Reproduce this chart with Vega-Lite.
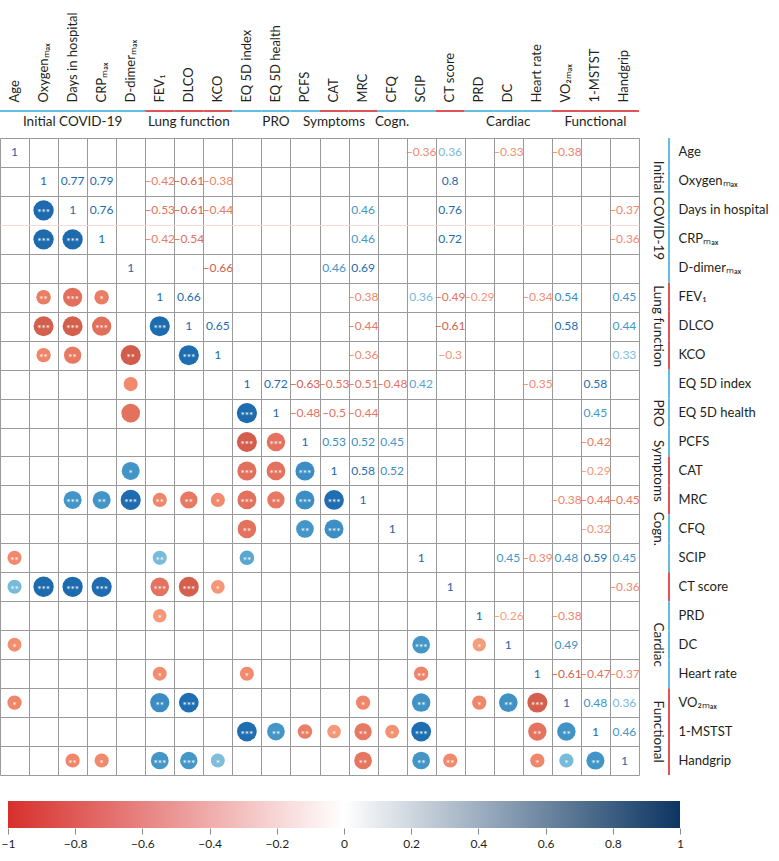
{
  "$schema": "https://vega.github.io/schema/vega-lite/v6.json",
  "padding": {"left": 0, "top": 11, "right": 0, "bottom": 0},
  "config": {
    "font": "Lato",
    "view": {"stroke": null},
    "axis": {"labelColor": "#231f20", "labelFontSize": 13, "title": null}
  },
  "datasets": {
    "vars": [
      {"v": "Age", "kind": "a"}, {"v": "Oxygenmax", "kind": "a"}, {"v": "Days in hospital", "kind": "a"}, {"v": "CRPmax", "kind": "a"}, {"v": "D-dimermax", "kind": "a"},
      {"v": "FEV1", "kind": "b"}, {"v": "DLCO", "kind": "b"}, {"v": "KCO", "kind": "b"},
      {"v": "EQ 5D index", "kind": "a"}, {"v": "EQ 5D health", "kind": "a"}, {"v": "PCFS", "kind": "a"},
      {"v": "CAT", "kind": "b"}, {"v": "MRC", "kind": "b"},
      {"v": "CFQ", "kind": "a"}, {"v": "SCIP", "kind": "a"},
      {"v": "CT score", "kind": "b"},
      {"v": "PRD", "kind": "a"}, {"v": "DC", "kind": "a"}, {"v": "Heart rate", "kind": "a"},
      {"v": "VO2max", "kind": "b"}, {"v": "1-MSTST", "kind": "b"}, {"v": "Handgrip", "kind": "b"}
    ],
    "diag": [
      {"row": "Age", "col": "Age", "r": 1}, {"row": "Oxygenmax", "col": "Oxygenmax", "r": 1}, {"row": "Days in hospital", "col": "Days in hospital", "r": 1}, {"row": "CRPmax", "col": "CRPmax", "r": 1}, {"row": "D-dimermax", "col": "D-dimermax", "r": 1}, {"row": "FEV1", "col": "FEV1", "r": 1}, {"row": "DLCO", "col": "DLCO", "r": 1}, {"row": "KCO", "col": "KCO", "r": 1}, {"row": "EQ 5D index", "col": "EQ 5D index", "r": 1}, {"row": "EQ 5D health", "col": "EQ 5D health", "r": 1}, {"row": "PCFS", "col": "PCFS", "r": 1}, {"row": "CAT", "col": "CAT", "r": 1}, {"row": "MRC", "col": "MRC", "r": 1}, {"row": "CFQ", "col": "CFQ", "r": 1}, {"row": "SCIP", "col": "SCIP", "r": 1}, {"row": "CT score", "col": "CT score", "r": 1}, {"row": "PRD", "col": "PRD", "r": 1}, {"row": "DC", "col": "DC", "r": 1}, {"row": "Heart rate", "col": "Heart rate", "r": 1}, {"row": "VO2max", "col": "VO2max", "r": 1}, {"row": "1-MSTST", "col": "1-MSTST", "r": 1}, {"row": "Handgrip", "col": "Handgrip", "r": 1}
    ],
    "upper": [
      {"row": "Age", "col": "SCIP", "r": -0.36}, {"row": "Age", "col": "CT score", "r": 0.36}, {"row": "Age", "col": "DC", "r": -0.33}, {"row": "Age", "col": "VO2max", "r": -0.38},
      {"row": "Oxygenmax", "col": "Days in hospital", "r": 0.77}, {"row": "Oxygenmax", "col": "CRPmax", "r": 0.79}, {"row": "Oxygenmax", "col": "FEV1", "r": -0.42}, {"row": "Oxygenmax", "col": "DLCO", "r": -0.61}, {"row": "Oxygenmax", "col": "KCO", "r": -0.38}, {"row": "Oxygenmax", "col": "CT score", "r": 0.8},
      {"row": "Days in hospital", "col": "CRPmax", "r": 0.76}, {"row": "Days in hospital", "col": "FEV1", "r": -0.53}, {"row": "Days in hospital", "col": "DLCO", "r": -0.61}, {"row": "Days in hospital", "col": "KCO", "r": -0.44}, {"row": "Days in hospital", "col": "MRC", "r": 0.46}, {"row": "Days in hospital", "col": "CT score", "r": 0.76}, {"row": "Days in hospital", "col": "Handgrip", "r": -0.37},
      {"row": "CRPmax", "col": "FEV1", "r": -0.42}, {"row": "CRPmax", "col": "DLCO", "r": -0.54}, {"row": "CRPmax", "col": "MRC", "r": 0.46}, {"row": "CRPmax", "col": "CT score", "r": 0.72}, {"row": "CRPmax", "col": "Handgrip", "r": -0.36},
      {"row": "D-dimermax", "col": "KCO", "r": -0.66}, {"row": "D-dimermax", "col": "CAT", "r": 0.46}, {"row": "D-dimermax", "col": "MRC", "r": 0.69},
      {"row": "FEV1", "col": "DLCO", "r": 0.66}, {"row": "FEV1", "col": "MRC", "r": -0.38}, {"row": "FEV1", "col": "SCIP", "r": 0.36}, {"row": "FEV1", "col": "CT score", "r": -0.49}, {"row": "FEV1", "col": "PRD", "r": -0.29}, {"row": "FEV1", "col": "Heart rate", "r": -0.34}, {"row": "FEV1", "col": "VO2max", "r": 0.54}, {"row": "FEV1", "col": "Handgrip", "r": 0.45},
      {"row": "DLCO", "col": "KCO", "r": 0.65}, {"row": "DLCO", "col": "MRC", "r": -0.44}, {"row": "DLCO", "col": "CT score", "r": -0.61}, {"row": "DLCO", "col": "VO2max", "r": 0.58}, {"row": "DLCO", "col": "Handgrip", "r": 0.44},
      {"row": "KCO", "col": "MRC", "r": -0.36}, {"row": "KCO", "col": "CT score", "r": -0.3}, {"row": "KCO", "col": "Handgrip", "r": 0.33},
      {"row": "EQ 5D index", "col": "EQ 5D health", "r": 0.72}, {"row": "EQ 5D index", "col": "PCFS", "r": -0.63}, {"row": "EQ 5D index", "col": "CAT", "r": -0.53}, {"row": "EQ 5D index", "col": "MRC", "r": -0.51}, {"row": "EQ 5D index", "col": "CFQ", "r": -0.48}, {"row": "EQ 5D index", "col": "SCIP", "r": 0.42}, {"row": "EQ 5D index", "col": "Heart rate", "r": -0.35}, {"row": "EQ 5D index", "col": "1-MSTST", "r": 0.58},
      {"row": "EQ 5D health", "col": "PCFS", "r": -0.48}, {"row": "EQ 5D health", "col": "CAT", "r": -0.5}, {"row": "EQ 5D health", "col": "MRC", "r": -0.44}, {"row": "EQ 5D health", "col": "1-MSTST", "r": 0.45},
      {"row": "PCFS", "col": "CAT", "r": 0.53}, {"row": "PCFS", "col": "MRC", "r": 0.52}, {"row": "PCFS", "col": "CFQ", "r": 0.45}, {"row": "PCFS", "col": "1-MSTST", "r": -0.42},
      {"row": "CAT", "col": "MRC", "r": 0.58}, {"row": "CAT", "col": "CFQ", "r": 0.52}, {"row": "CAT", "col": "1-MSTST", "r": -0.29},
      {"row": "MRC", "col": "VO2max", "r": -0.38}, {"row": "MRC", "col": "1-MSTST", "r": -0.44}, {"row": "MRC", "col": "Handgrip", "r": -0.45},
      {"row": "CFQ", "col": "1-MSTST", "r": -0.32},
      {"row": "SCIP", "col": "DC", "r": 0.45}, {"row": "SCIP", "col": "Heart rate", "r": -0.39}, {"row": "SCIP", "col": "VO2max", "r": 0.48}, {"row": "SCIP", "col": "1-MSTST", "r": 0.59}, {"row": "SCIP", "col": "Handgrip", "r": 0.45},
      {"row": "CT score", "col": "Handgrip", "r": -0.36},
      {"row": "PRD", "col": "DC", "r": -0.26}, {"row": "PRD", "col": "VO2max", "r": -0.38},
      {"row": "DC", "col": "VO2max", "r": 0.49},
      {"row": "Heart rate", "col": "VO2max", "r": -0.61}, {"row": "Heart rate", "col": "1-MSTST", "r": -0.47}, {"row": "Heart rate", "col": "Handgrip", "r": -0.37},
      {"row": "VO2max", "col": "1-MSTST", "r": 0.48}, {"row": "VO2max", "col": "Handgrip", "r": 0.36},
      {"row": "1-MSTST", "col": "Handgrip", "r": 0.46}
    ],
    "lower": [
      {"row": "Days in hospital", "col": "Oxygenmax", "r": 0.77, "sig": "***"},
      {"row": "CRPmax", "col": "Oxygenmax", "r": 0.79, "sig": "***"},
      {"row": "CRPmax", "col": "Days in hospital", "r": 0.76, "sig": "***"},
      {"row": "FEV1", "col": "Oxygenmax", "r": -0.42, "sig": "**"},
      {"row": "FEV1", "col": "Days in hospital", "r": -0.53, "sig": "***"},
      {"row": "FEV1", "col": "CRPmax", "r": -0.42, "sig": "*"},
      {"row": "DLCO", "col": "Oxygenmax", "r": -0.61, "sig": "***"},
      {"row": "DLCO", "col": "Days in hospital", "r": -0.61, "sig": "***"},
      {"row": "DLCO", "col": "CRPmax", "r": -0.54, "sig": "***"},
      {"row": "DLCO", "col": "FEV1", "r": 0.66, "sig": "***"},
      {"row": "KCO", "col": "Oxygenmax", "r": -0.38, "sig": "**"},
      {"row": "KCO", "col": "Days in hospital", "r": -0.44, "sig": "**"},
      {"row": "KCO", "col": "D-dimermax", "r": -0.66, "sig": "**"},
      {"row": "KCO", "col": "DLCO", "r": 0.65, "sig": "***"},
      {"row": "EQ 5D index", "col": "D-dimermax", "r": -0.36, "sig": ""},
      {"row": "EQ 5D health", "col": "D-dimermax", "r": -0.5, "sig": ""},
      {"row": "EQ 5D health", "col": "EQ 5D index", "r": 0.72, "sig": "***"},
      {"row": "PCFS", "col": "EQ 5D index", "r": -0.63, "sig": "***"},
      {"row": "PCFS", "col": "EQ 5D health", "r": -0.48, "sig": "***"},
      {"row": "CAT", "col": "D-dimermax", "r": 0.46, "sig": "*"},
      {"row": "CAT", "col": "EQ 5D index", "r": -0.53, "sig": "***"},
      {"row": "CAT", "col": "EQ 5D health", "r": -0.5, "sig": "***"},
      {"row": "CAT", "col": "PCFS", "r": 0.53, "sig": "***"},
      {"row": "MRC", "col": "Days in hospital", "r": 0.46, "sig": "***"},
      {"row": "MRC", "col": "CRPmax", "r": 0.46, "sig": "**"},
      {"row": "MRC", "col": "D-dimermax", "r": 0.69, "sig": "***"},
      {"row": "MRC", "col": "FEV1", "r": -0.38, "sig": "**"},
      {"row": "MRC", "col": "DLCO", "r": -0.44, "sig": "**"},
      {"row": "MRC", "col": "KCO", "r": -0.36, "sig": "*"},
      {"row": "MRC", "col": "EQ 5D index", "r": -0.51, "sig": "***"},
      {"row": "MRC", "col": "EQ 5D health", "r": -0.44, "sig": "**"},
      {"row": "MRC", "col": "PCFS", "r": 0.52, "sig": "***"},
      {"row": "MRC", "col": "CAT", "r": 0.58, "sig": "***"},
      {"row": "CFQ", "col": "EQ 5D index", "r": -0.48, "sig": "**"},
      {"row": "CFQ", "col": "PCFS", "r": 0.45, "sig": "**"},
      {"row": "CFQ", "col": "CAT", "r": 0.52, "sig": "***"},
      {"row": "SCIP", "col": "Age", "r": -0.36, "sig": "**"},
      {"row": "SCIP", "col": "FEV1", "r": 0.36, "sig": "**"},
      {"row": "SCIP", "col": "EQ 5D index", "r": 0.42, "sig": "**"},
      {"row": "CT score", "col": "Age", "r": 0.36, "sig": "**"},
      {"row": "CT score", "col": "Oxygenmax", "r": 0.8, "sig": "***"},
      {"row": "CT score", "col": "Days in hospital", "r": 0.76, "sig": "***"},
      {"row": "CT score", "col": "CRPmax", "r": 0.72, "sig": "***"},
      {"row": "CT score", "col": "FEV1", "r": -0.49, "sig": "***"},
      {"row": "CT score", "col": "DLCO", "r": -0.61, "sig": "***"},
      {"row": "CT score", "col": "KCO", "r": -0.3, "sig": "*"},
      {"row": "PRD", "col": "FEV1", "r": -0.29, "sig": "*"},
      {"row": "DC", "col": "Age", "r": -0.33, "sig": "*"},
      {"row": "DC", "col": "SCIP", "r": 0.45, "sig": "***"},
      {"row": "DC", "col": "PRD", "r": -0.26, "sig": "*"},
      {"row": "Heart rate", "col": "FEV1", "r": -0.34, "sig": "*"},
      {"row": "Heart rate", "col": "EQ 5D index", "r": -0.35, "sig": "*"},
      {"row": "Heart rate", "col": "SCIP", "r": -0.39, "sig": "**"},
      {"row": "VO2max", "col": "Age", "r": -0.38, "sig": "*"},
      {"row": "VO2max", "col": "FEV1", "r": 0.54, "sig": "**"},
      {"row": "VO2max", "col": "DLCO", "r": 0.58, "sig": "***"},
      {"row": "VO2max", "col": "MRC", "r": -0.38, "sig": "*"},
      {"row": "VO2max", "col": "SCIP", "r": 0.48, "sig": "**"},
      {"row": "VO2max", "col": "PRD", "r": -0.38, "sig": "*"},
      {"row": "VO2max", "col": "DC", "r": 0.49, "sig": "**"},
      {"row": "VO2max", "col": "Heart rate", "r": -0.61, "sig": "***"},
      {"row": "1-MSTST", "col": "EQ 5D index", "r": 0.58, "sig": "***"},
      {"row": "1-MSTST", "col": "EQ 5D health", "r": 0.45, "sig": "**"},
      {"row": "1-MSTST", "col": "PCFS", "r": -0.42, "sig": "**"},
      {"row": "1-MSTST", "col": "CAT", "r": -0.29, "sig": "*"},
      {"row": "1-MSTST", "col": "MRC", "r": -0.44, "sig": "**"},
      {"row": "1-MSTST", "col": "CFQ", "r": -0.32, "sig": "*"},
      {"row": "1-MSTST", "col": "SCIP", "r": 0.59, "sig": "***"},
      {"row": "1-MSTST", "col": "Heart rate", "r": -0.47, "sig": "**"},
      {"row": "1-MSTST", "col": "VO2max", "r": 0.48, "sig": "**"},
      {"row": "Handgrip", "col": "Days in hospital", "r": -0.37, "sig": "**"},
      {"row": "Handgrip", "col": "CRPmax", "r": -0.36, "sig": "*"},
      {"row": "Handgrip", "col": "FEV1", "r": 0.45, "sig": "***"},
      {"row": "Handgrip", "col": "DLCO", "r": 0.44, "sig": "***"},
      {"row": "Handgrip", "col": "KCO", "r": 0.33, "sig": "*"},
      {"row": "Handgrip", "col": "MRC", "r": -0.45, "sig": "**"},
      {"row": "Handgrip", "col": "SCIP", "r": 0.45, "sig": "**"},
      {"row": "Handgrip", "col": "CT score", "r": -0.36, "sig": "**"},
      {"row": "Handgrip", "col": "Heart rate", "r": -0.37, "sig": "*"},
      {"row": "Handgrip", "col": "VO2max", "r": 0.36, "sig": "*"},
      {"row": "Handgrip", "col": "1-MSTST", "r": 0.46, "sig": "**"}
    ],
    "bar": [{"lo": -1, "hi": 1}]
  },
  "columns": 2,
  "align": "each",
  "bounds": "flush",
  "spacing": {"row": 26, "column": 29},
  "concat": [
    {
      "width": 639,
      "height": 2,
      "data": {"name": "vars"},
      "mark": "rect",
      "encoding": {
        "x": {"field": "v", "type": "nominal", "sort": null, "axis": null,
          "scale": {"type": "band", "domain": ["Age","Oxygenmax","Days in hospital","CRPmax","D-dimermax","FEV1","DLCO","KCO","EQ 5D index","EQ 5D health","PCFS","CAT","MRC","CFQ","SCIP","CT score","PRD","DC","Heart rate","VO2max","1-MSTST","Handgrip"], "paddingInner": 0, "paddingOuter": 0}},
        "fill": {"field": "kind", "type": "nominal", "scale": {"domain": ["a", "b"], "range": ["#62bde3", "#de5459"]}, "legend": null}
      }
    },
    {
      "width": 2,
      "height": 2,
      "data": {"values": []},
      "mark": {"type": "rect", "opacity": 0},
      "encoding": {}
    },
    {
      "width": 639,
      "height": 637,
      "resolve": {"axis": {"x": "independent", "y": "independent"}},
      "layer": [
        {
          "data": {"name": "lower"},
          "mark": {"type": "circle", "opacity": 1},
          "encoding": {
            "x": {"field": "col", "type": "nominal", "sort": null,
              "scale": {"type": "band", "domain": ["Age","Oxygenmax","Days in hospital","CRPmax","D-dimermax","FEV1","DLCO","KCO","EQ 5D index","EQ 5D health","PCFS","CAT","MRC","CFQ","SCIP","CT score","PRD","DC","Heart rate","VO2max","1-MSTST","Handgrip"], "paddingInner": 0, "paddingOuter": 0},
              "axis": {"orient": "top", "labels": false, "ticks": false, "domain": false, "grid": true, "tickBand": "extent", "gridColor": "#9a9a9a", "gridWidth": 1, "title": null}},
            "y": {"field": "row", "type": "nominal", "sort": null,
              "scale": {"type": "band", "domain": ["Age","Oxygenmax","Days in hospital","CRPmax","D-dimermax","FEV1","DLCO","KCO","EQ 5D index","EQ 5D health","PCFS","CAT","MRC","CFQ","SCIP","CT score","PRD","DC","Heart rate","VO2max","1-MSTST","Handgrip"], "paddingInner": 0, "paddingOuter": 0},
              "axis": {"orient": "left", "labels": false, "ticks": false, "domain": false, "grid": true, "tickBand": "extent", "gridWidth": 1, "title": null,
                "gridColor": {"condition": {"test": "datum.value === 'Days in hospital'", "value": "#f4d9d9"}, "value": "#9a9a9a"}}},
            "color": {"field": "r", "type": "quantitative", "legend": null,
              "scale": {"type": "linear", "interpolate": "rgb",
                "domain": [-1, -0.58, -0.55, -0.46, -0.41, -0.35, -0.25, 0, 0.3, 0.4, 0.44, 0.54, 0.57, 1],
                "range": ["#c8524a", "#d4604d", "#e06e5b", "#e4745f", "#ec8066", "#f28b6e", "#f5a07f", "#f7f7f7", "#86c2dd", "#6db4d7", "#4597c8", "#3a8cc2", "#1f6eb1", "#1b66aa"]}},
            "size": {"field": "r", "type": "quantitative", "legend": null,
              "scale": {"type": "linear", "zero": false,
                "domain": [-0.8, -0.6, -0.47, -0.44, -0.43, -0.25, 0, 0.25, 0.43, 0.44, 0.47, 0.6, 0.8],
                "range": [415, 398, 337, 300, 214, 177, 0, 177, 214, 300, 337, 398, 415]}}
          }
        },
        {
          "data": {"name": "lower"},
          "mark": {"type": "text", "color": "white", "fontSize": 10, "dy": 3, "align": "center", "baseline": "middle"},
          "encoding": {
            "x": {"field": "col", "type": "nominal", "sort": null,
              "scale": {"type": "band", "domain": ["Age","Oxygenmax","Days in hospital","CRPmax","D-dimermax","FEV1","DLCO","KCO","EQ 5D index","EQ 5D health","PCFS","CAT","MRC","CFQ","SCIP","CT score","PRD","DC","Heart rate","VO2max","1-MSTST","Handgrip"], "paddingInner": 0, "paddingOuter": 0},
              "axis": {"orient": "top", "ticks": false, "domain": false, "grid": false, "labelAngle": -90, "labelAlign": "left", "labelBaseline": "middle", "labelPadding": 36, "labelFontSize": 13, "title": null,
                "labelExpr": "datum.value == 'Oxygenmax' ? 'Oxygen\u2098\u2090\u2093' : datum.value == 'CRPmax' ? 'CRP\u2098\u2090\u2093' : datum.value == 'D-dimermax' ? 'D-dimer\u2098\u2090\u2093' : datum.value == 'FEV1' ? 'FEV\u2081' : datum.value == 'VO2max' ? 'VO\u2082\u2098\u2090\u2093' : datum.value"}},
            "y": {"field": "row", "type": "nominal", "sort": null,
              "scale": {"type": "band", "domain": ["Age","Oxygenmax","Days in hospital","CRPmax","D-dimermax","FEV1","DLCO","KCO","EQ 5D index","EQ 5D health","PCFS","CAT","MRC","CFQ","SCIP","CT score","PRD","DC","Heart rate","VO2max","1-MSTST","Handgrip"], "paddingInner": 0, "paddingOuter": 0},
              "axis": {"orient": "right", "ticks": false, "domain": false, "grid": false, "labelPadding": 39, "labelFontSize": 13, "labelBaseline": "middle", "labelAlign": "left", "title": null,
                "labelExpr": "datum.value == 'Oxygenmax' ? 'Oxygen\u2098\u2090\u2093' : datum.value == 'CRPmax' ? 'CRP\u2098\u2090\u2093' : datum.value == 'D-dimermax' ? 'D-dimer\u2098\u2090\u2093' : datum.value == 'FEV1' ? 'FEV\u2081' : datum.value == 'VO2max' ? 'VO\u2082\u2098\u2090\u2093' : datum.value"}},
            "text": {"field": "sig", "type": "nominal"}
          }
        },
        {
          "data": {"name": "upper"},
          "mark": {"type": "text", "fontSize": 12, "align": "center", "baseline": "middle"},
          "encoding": {
            "x": {"field": "col", "type": "nominal", "sort": null,
              "scale": {"type": "band", "domain": ["Age","Oxygenmax","Days in hospital","CRPmax","D-dimermax","FEV1","DLCO","KCO","EQ 5D index","EQ 5D health","PCFS","CAT","MRC","CFQ","SCIP","CT score","PRD","DC","Heart rate","VO2max","1-MSTST","Handgrip"], "paddingInner": 0, "paddingOuter": 0},
              "axis": {"orient": "top", "ticks": false, "domain": false, "grid": false, "labelAngle": 0, "labelAlign": "center", "labelBaseline": "alphabetic", "labelPadding": 13, "labelFontSize": 13.5, "title": null,
                "values": ["Days in hospital", "DLCO", "EQ 5D health", "DC", "1-MSTST"],
                "labelExpr": "datum.value == 'Days in hospital' ? 'Initial COVID-19' : datum.value == 'DLCO' ? 'Lung function' : datum.value == 'EQ 5D health' ? 'PRO' : datum.value == 'DC' ? 'Cardiac' : 'Functional'"}},
            "y": {"field": "row", "type": "nominal", "sort": null,
              "scale": {"type": "band", "domain": ["Age","Oxygenmax","Days in hospital","CRPmax","D-dimermax","FEV1","DLCO","KCO","EQ 5D index","EQ 5D health","PCFS","CAT","MRC","CFQ","SCIP","CT score","PRD","DC","Heart rate","VO2max","1-MSTST","Handgrip"], "paddingInner": 0, "paddingOuter": 0},
              "axis": {"orient": "right", "ticks": false, "domain": false, "grid": false, "labelAngle": 90, "labelAlign": "center", "labelBaseline": "bottom", "labelPadding": 11, "labelFontSize": 13.5, "title": null,
                "values": ["Days in hospital", "DLCO", "EQ 5D health", "DC", "1-MSTST"],
                "labelExpr": "datum.value == 'Days in hospital' ? 'Initial COVID-19' : datum.value == 'DLCO' ? 'Lung function' : datum.value == 'EQ 5D health' ? 'PRO' : datum.value == 'DC' ? 'Cardiac' : 'Functional'"}},
            "text": {"field": "r", "type": "quantitative", "format": ".2~f"},
            "color": {"field": "r", "type": "quantitative", "legend": null,
              "scale": {"type": "linear", "interpolate": "rgb",
                "domain": [-1, -0.58, -0.55, -0.46, -0.41, -0.35, -0.25, 0, 0.3, 0.4, 0.44, 0.54, 0.57, 1],
                "range": ["#c8524a", "#d4604d", "#e06e5b", "#e4745f", "#ec8066", "#f28b6e", "#f5a07f", "#f7f7f7", "#86c2dd", "#6db4d7", "#4597c8", "#3a8cc2", "#1f6eb1", "#1b66aa"]}}
          }
        },
        {
          "data": {"name": "diag"},
          "mark": {"type": "text", "fontSize": 12, "align": "center", "baseline": "middle"},
          "encoding": {
            "x": {"field": "col", "type": "nominal", "sort": null,
              "scale": {"type": "band", "domain": ["Age","Oxygenmax","Days in hospital","CRPmax","D-dimermax","FEV1","DLCO","KCO","EQ 5D index","EQ 5D health","PCFS","CAT","MRC","CFQ","SCIP","CT score","PRD","DC","Heart rate","VO2max","1-MSTST","Handgrip"], "paddingInner": 0, "paddingOuter": 0},
              "axis": {"orient": "top", "ticks": false, "domain": false, "grid": false, "labelAngle": 0, "labelAlign": "center", "labelBaseline": "alphabetic", "labelPadding": 13, "labelFontSize": 13.5, "title": null, "bandPosition": 1,
                "values": ["CAT", "CFQ"],
                "labelExpr": "datum.value == 'CAT' ? 'Symptoms' : 'Cogn.'"}},
            "y": {"field": "row", "type": "nominal", "sort": null,
              "scale": {"type": "band", "domain": ["Age","Oxygenmax","Days in hospital","CRPmax","D-dimermax","FEV1","DLCO","KCO","EQ 5D index","EQ 5D health","PCFS","CAT","MRC","CFQ","SCIP","CT score","PRD","DC","Heart rate","VO2max","1-MSTST","Handgrip"], "paddingInner": 0, "paddingOuter": 0},
              "axis": {"orient": "right", "ticks": false, "domain": false, "grid": false, "labelAngle": 90, "labelAlign": "center", "labelBaseline": "bottom", "labelPadding": 11, "labelFontSize": 13.5, "title": null, "bandPosition": 1,
                "values": ["CAT", "CFQ"],
                "labelExpr": "datum.value == 'CAT' ? 'Symptoms' : 'Cogn.'"}},
            "text": {"field": "r", "type": "quantitative", "format": ".2~f"},
            "color": {"field": "r", "type": "quantitative", "legend": null,
              "scale": {"type": "linear", "interpolate": "rgb",
                "domain": [-1, -0.58, -0.55, -0.46, -0.41, -0.35, -0.25, 0, 0.3, 0.4, 0.44, 0.54, 0.57, 1],
                "range": ["#c8524a", "#d4604d", "#e06e5b", "#e4745f", "#ec8066", "#f28b6e", "#f5a07f", "#f7f7f7", "#86c2dd", "#6db4d7", "#4597c8", "#3a8cc2", "#1f6eb1", "#1b66aa"]}}
          }
        }
      ]
    },
    {
      "width": 2,
      "height": 637,
      "data": {"name": "vars"},
      "mark": "rect",
      "encoding": {
        "y": {"field": "v", "type": "nominal", "sort": null, "axis": null,
          "scale": {"type": "band", "domain": ["Age","Oxygenmax","Days in hospital","CRPmax","D-dimermax","FEV1","DLCO","KCO","EQ 5D index","EQ 5D health","PCFS","CAT","MRC","CFQ","SCIP","CT score","PRD","DC","Heart rate","VO2max","1-MSTST","Handgrip"], "paddingInner": 0, "paddingOuter": 0}},
        "fill": {"field": "kind", "type": "nominal", "scale": {"domain": ["a", "b"], "range": ["#62bde3", "#de5459"]}, "legend": null}
      }
    },
    {
      "width": 639,
      "height": 27,
      "data": {"name": "bar"},
      "mark": {"type": "rect",
        "color": {"gradient": "linear", "x1": 0, "y1": 0, "x2": 1, "y2": 0,
          "stops": [{"offset": 0, "color": "#d7302c"}, {"offset": 0.5, "color": "#ffffff"}, {"offset": 1, "color": "#0b3561"}]}},
      "encoding": {
        "x": {"field": "lo", "type": "quantitative",
          "scale": {"domain": [-1, 1], "range": [8, 680], "nice": false, "zero": false},
          "axis": {"orient": "bottom", "values": [-1, -0.8, -0.6, -0.4, -0.2, 0, 0.2, 0.4, 0.6, 0.8, 1], "format": ".1~f", "domain": false, "grid": false, "ticks": true, "tickSize": 6, "tickColor": "#8a8a8a", "labelFontSize": 12, "labelPadding": 4, "labelFlush": false, "labelOverlap": false, "title": null}},
        "x2": {"field": "hi"}
      }
    }
  ]
}
